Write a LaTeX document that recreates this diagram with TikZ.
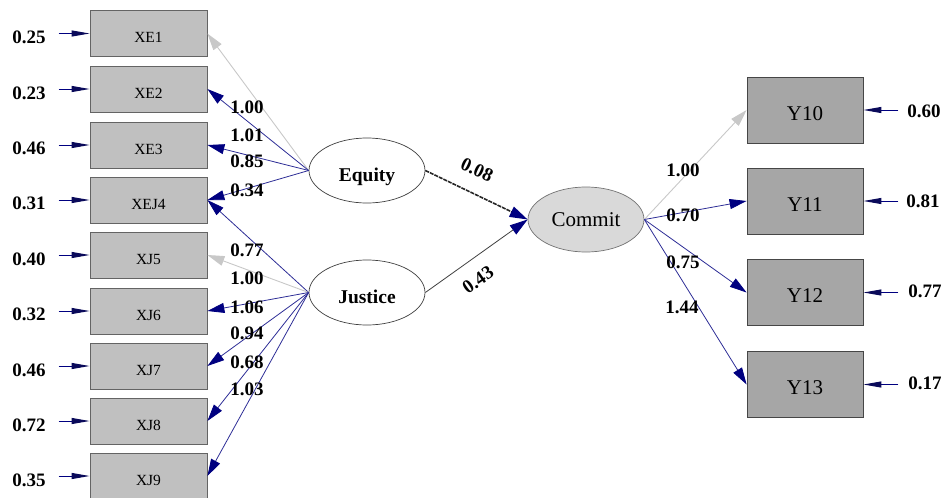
\documentclass[tikz,border=0pt]{standalone}
\usepackage{fontspec}
\setmainfont{Liberation Serif}
\usetikzlibrary{arrows.meta,shapes.geometric}
\definecolor{navyc}{RGB}{0,0,128}
\definecolor{errc}{RGB}{10,10,90}
\definecolor{linec}{RGB}{45,45,150}
\definecolor{fixc}{RGB}{200,200,200}
\definecolor{xboxc}{RGB}{192,192,192}
\definecolor{yboxc}{RGB}{166,166,166}
\definecolor{commitc}{RGB}{217,217,217}
\definecolor{bordc}{RGB}{100,100,100}
\tikzset{
  xvar/.style={draw=bordc, line width=0.8pt, fill=xboxc, minimum width=117pt, minimum height=46pt,
    inner sep=0pt, font=\fontsize{15.5}{15.5}\selectfont, text height=18pt, text depth=0pt},
  yvar/.style={draw=bordc!70!black, line width=0.8pt, fill=yboxc, minimum width=116pt, minimum height=66pt,
    inner sep=0pt, font=\fontsize{21}{21}\selectfont, text height=20pt, text depth=0pt},
  latent/.style={ellipse, draw=black!75, line width=0.7pt, fill=white, minimum width=116pt, minimum height=65pt,
    inner sep=0pt, font=\bfseries\fontsize{19.5}{19.5}\selectfont, text height=21.5pt, text depth=0pt},
  endo/.style={ellipse, draw=black!55, line width=0.7pt, fill=commitc, minimum width=116pt, minimum height=65pt,
    inner sep=0pt, font=\fontsize{21}{21}\selectfont},
  vlab/.style={font=\bfseries\fontsize{19}{19}\selectfont, inner sep=0pt},
  load/.style={draw=linec, line width=0.8pt, -{Triangle[length=17pt,width=10pt,color=navyc]}},
  fixload/.style={draw=fixc, line width=0.9pt, -{Triangle[length=17pt,width=10pt]}},
  errarr/.style={draw=navyc, line width=1pt, -{Triangle[length=18pt,width=6pt,color=errc]}},
  patheq/.style={draw=black!85, line width=1.6pt, dash pattern=on 4pt off 1pt, -{Triangle[length=18pt,width=11pt,color=navyc]}},
  pathju/.style={draw=black!75, line width=0.8pt, -{Triangle[length=18pt,width=11pt,color=navyc]}}
}
\begin{document}
\begin{tikzpicture}[x=1pt,y=-1pt]
\useasboundingbox (0,0) rectangle (946,498);
% observed X variables
\node[xvar] (xe1) at (148.5,33.5) {XE1};
\node[xvar] (xe2) at (148.5,89) {XE2};
\node[xvar] (xe3) at (148.5,145) {XE3};
\node[xvar] (xej4) at (148.5,200) {XEJ4};
\node[xvar] (xj5) at (148.5,255) {XJ5};
\node[xvar] (xj6) at (148.5,311) {XJ6};
\node[xvar] (xj7) at (148.5,366) {XJ7};
\node[xvar] (xj8) at (148.5,421) {XJ8};
\node[xvar] (xj9) at (148.5,476) {XJ9};
% latent
\node[latent] (eq) at (367,170.5) {Equity};
\node[latent] (ju) at (367,292.5) {Justice};
\node[endo] (co) at (586,219.5) {Commit};
% Y variables
\node[yvar] (y10) at (805,110) {Y10};
\node[yvar] (y11) at (805,201) {Y11};
\node[yvar] (y12) at (805,292.5) {Y12};
\node[yvar] (y13) at (805,384.5) {Y13};
% error labels left
\node[vlab] (v1) at (29,37) {0.25};
\node[vlab] (v2) at (29,93) {0.23};
\node[vlab] (v3) at (29,148) {0.46};
\node[vlab] (v4) at (29,203) {0.31};
\node[vlab] (v5) at (29,259) {0.40};
\node[vlab] (v6) at (29,314) {0.32};
\node[vlab] (v7) at (29,370) {0.46};
\node[vlab] (v8) at (29,425) {0.72};
\node[vlab] (v9) at (29,480) {0.35};
\foreach \n in {xe1,xe2,xe3,xej4,xj5,xj6,xj7,xj8,xj9}{
  \coordinate (e\n) at ([xshift=-31pt]\n.west);
  \draw[errarr] (e\n) -- (\n.west);
}
% error labels right
\node[vlab] (w10) at (924,111) {0.60};
\node[vlab] (w11) at (923,201) {0.81};
\node[vlab] (w12) at (925,291) {0.77};
\node[vlab] (w13) at (925,383) {0.17};
\foreach \n in {y10,y11,y12,y13}{
  \coordinate (e\n) at ([xshift=35pt]\n.east);
  \draw[errarr] (e\n) -- (\n.east);
}
% loadings Equity
\draw[fixload] (eq.west) -- (xe1.east);
\draw[load] (eq.west) -- (xe2.east);
\draw[load] (eq.west) -- (xe3.east);
\draw[load] (eq.west) -- (xej4.east);
% loadings Justice
\draw[load] (ju.west) -- (xej4.east);
\draw[fixload] (ju.west) -- (xj5.east);
\draw[load] (ju.west) -- (xj6.east);
\draw[load] (ju.west) -- (xj7.east);
\draw[load] (ju.west) -- (xj8.east);
\draw[load] (ju.west) -- (xj9.east);
% loadings Commit
\draw[fixload] (co.east) -- (y10.west);
\draw[load] (co.east) -- (y11.west);
\draw[load] (co.east) -- (y12.west);
\draw[load] (co.east) -- (y13.west);
% structural paths
\draw[patheq] (eq.east) -- (co.west);
\draw[pathju] (ju.east) -- (co.west);
% loading labels
\node[vlab] (l1) at (247,107) {1.00};
\node[vlab] (l2) at (247,135) {1.01};
\node[vlab] (l3) at (247,161) {0.85};
\node[vlab] (l4) at (247,190) {0.34};
\node[vlab] (l5) at (247,250) {0.77};
\node[vlab] (l6) at (247,278) {1.00};
\node[vlab] (l7) at (247,307) {1.06};
\node[vlab] (l8) at (247,333) {0.94};
\node[vlab] (l9) at (247,362) {0.68};
\node[vlab] (l10) at (247,389) {1.03};
\node[vlab] (r1) at (683,170) {1.00};
\node[vlab] (r2) at (683,215) {0.70};
\node[vlab] (r3) at (683,262) {0.75};
\node[vlab] (r4) at (682,307) {1.44};
\node[vlab, rotate=-25] (p1) at (477,170) {0.08};
\node[vlab, rotate=35] (p2) at (478,280) {0.43};
\end{tikzpicture}
\end{document}
